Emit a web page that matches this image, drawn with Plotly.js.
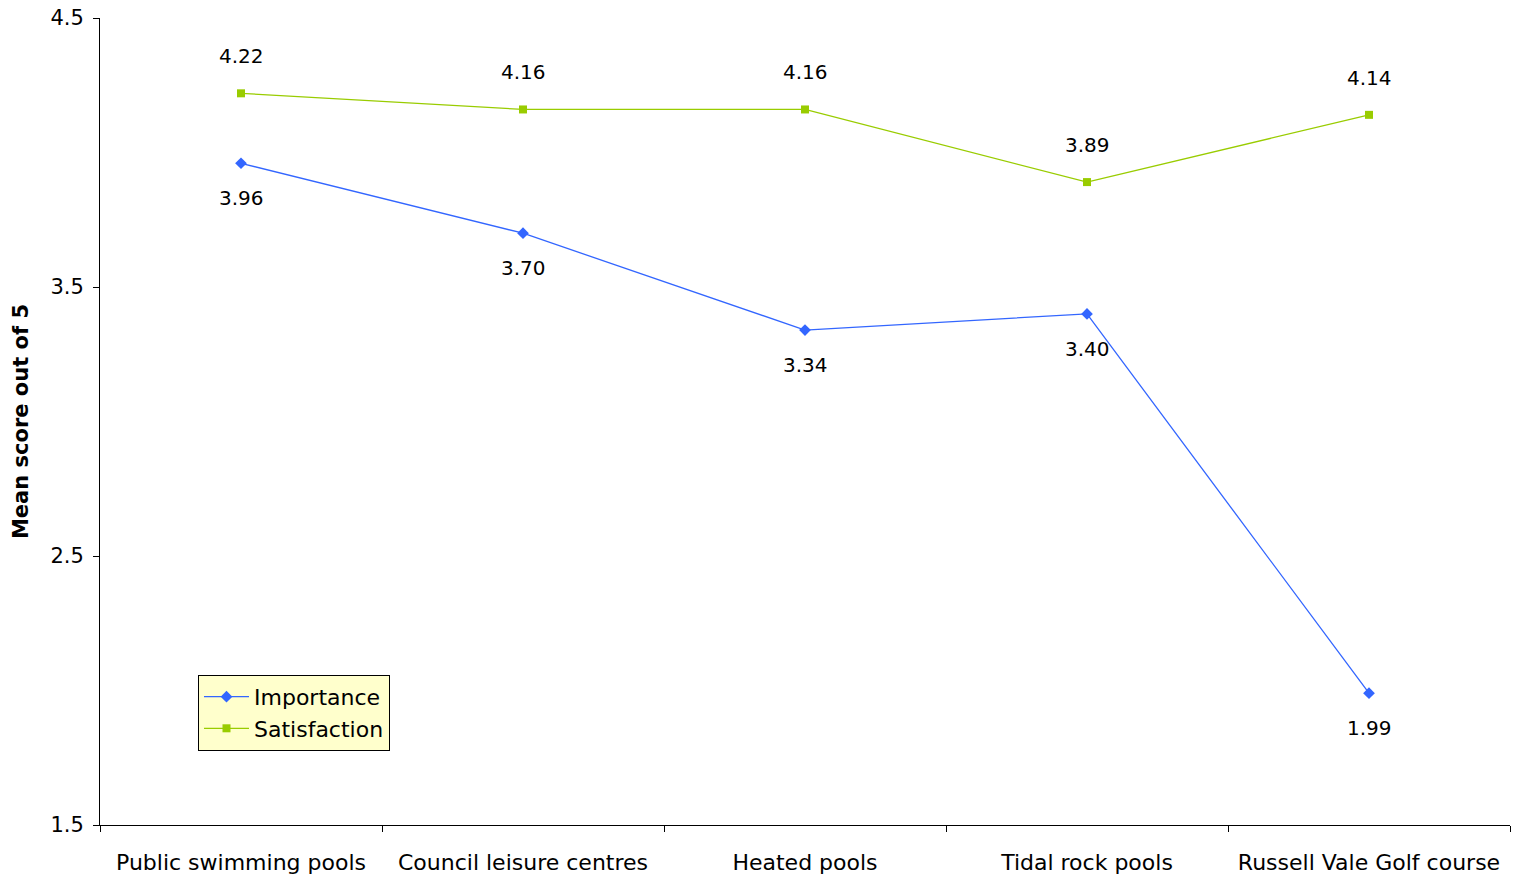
<!DOCTYPE html>
<html><head><meta charset="utf-8">
<script src="https://cdn.plot.ly/plotly-3.0.1.min.js"></script>
<style>body{margin:0;padding:0;background:#fff}#chart{width:1522px;height:881px}</style>
</head><body><div id="chart"></div>
<script>
const categories = ["Public swimming pools","Council leisure centres","Heated pools","Tidal rock pools","Russell Vale Golf course"];
const importance = [3.96, 3.70, 3.34, 3.40, 1.99];
const satisfaction = [4.22, 4.16, 4.16, 3.89, 4.14];
const yTicks = [1.5, 2.5, 3.5, 4.5];

const FONT = "DejaVu Sans, sans-serif";
const traces = [
  {x: categories, y: importance, name: "Importance", mode: "lines+markers", type: "scatter",
   line: {color: "#3366ff", width: 1.3}, marker: {symbol: "diamond", size: 9, color: "#3366ff"}},
  {x: categories, y: satisfaction, name: "Satisfaction", mode: "lines+markers", type: "scatter",
   line: {color: "#99cc00", width: 1.3}, marker: {symbol: "square", size: 8, color: "#99cc00"}}
];
const annotations = [];
categories.forEach((c, i) => {
  annotations.push({x: c, y: importance[i], text: importance[i].toFixed(2), showarrow: false, yshift: -35,
    font: {family: FONT, size: 20, color: "#000"}});
  annotations.push({x: c, y: satisfaction[i], text: satisfaction[i].toFixed(2), showarrow: false, yshift: 37,
    font: {family: FONT, size: 20, color: "#000"}});
});
const layout = {
  width: 1522, height: 881,
  margin: {l: 100, r: 12, t: 18, b: 56},
  paper_bgcolor: "#fff", plot_bgcolor: "#fff",
  font: {family: FONT, size: 21, color: "#000"},
  showlegend: true,
  legend: {x: 0.0695, y: 0.186, xanchor: "left", yanchor: "top", bgcolor: "#ffffcc",
    bordercolor: "#000", borderwidth: 1, font: {family: FONT, size: 22, color: "#000"},
    tracegroupgap: 12, itemwidth: 45},
  xaxis: {type: "category", showline: true, linecolor: "#000", linewidth: 1, ticks: "outside",
    tickson: "boundaries", ticklen: 6, tickcolor: "#000", showgrid: false, zeroline: false,
    tickfont: {family: FONT, size: 22}, ticklabelstandoff: 18, range: [-0.5, 4.5]},
  yaxis: {range: [1.5, 4.5], tickvals: yTicks, ticktext: yTicks.map(v => v.toFixed(1)),
    showline: true, linecolor: "#000", linewidth: 1, ticks: "outside", ticklen: 6, tickcolor: "#000",
    showgrid: false, zeroline: false, tickfont: {family: FONT, size: 21}, ticklabelstandoff: 5,
    title: {text: "<b>Mean score out of 5</b>", font: {family: FONT, size: 21}, standoff: 16}},
  annotations: annotations
};
Plotly.newPlot("chart", traces, layout, {displayModeBar: false});
</script></body></html>
